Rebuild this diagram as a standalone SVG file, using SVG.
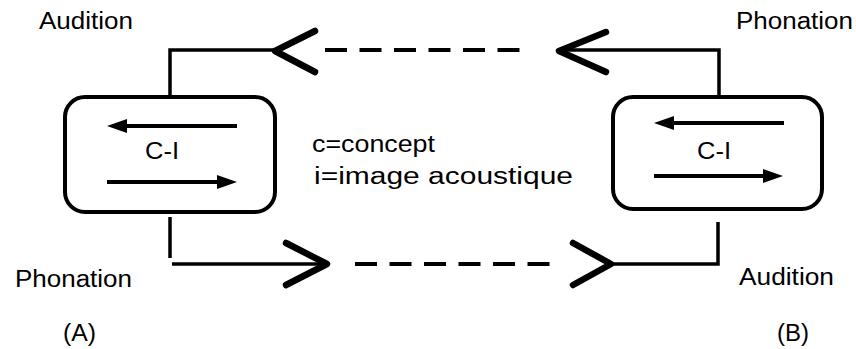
<svg xmlns="http://www.w3.org/2000/svg" width="856" height="349" viewBox="0 0 856 349">
  <style>
    .lbl { font-family: "Liberation Sans", Arial, sans-serif; font-size: 23px; fill: #000; }
    .box { fill: #fff; stroke: #000; stroke-width: 4; }
    .wire { fill: none; stroke: #000; stroke-width: 3.5; }
    .dash { fill: none; stroke: #000; stroke-width: 4; stroke-dasharray: 22 12.5; }
    .chev { fill: none; stroke: #000; stroke-width: 6.5; stroke-linecap: round; stroke-linejoin: round; }
    .inner { fill: none; stroke: #000; stroke-width: 4; }
    .head { fill: #000; stroke: none; }
  </style>
  <rect width="856" height="349" fill="#fff"/>

  <!-- speaker A -->
  <g id="speaker-a">
    <rect class="box" x="65" y="97" width="210" height="115" rx="20"/>
    <line class="inner" x1="237" y1="126" x2="122" y2="126"/>
    <polygon class="head" points="107,126 127,119 127,133"/>
    <line class="inner" x1="107" y1="182" x2="222" y2="182"/>
    <polygon class="head" points="237,182 217,175 217,189"/>
    <text class="lbl" x="145" y="159" textLength="34" lengthAdjust="spacingAndGlyphs">C-I</text>
  </g>

  <!-- speaker B -->
  <g id="speaker-b">
    <rect class="box" x="613" y="97" width="209" height="112" rx="20"/>
    <line class="inner" x1="784" y1="123" x2="669" y2="123"/>
    <polygon class="head" points="654,123 674,116 674,130"/>
    <line class="inner" x1="654" y1="176" x2="768" y2="176"/>
    <polygon class="head" points="783,176 763,169 763,183"/>
    <text class="lbl" x="697" y="159" textLength="34" lengthAdjust="spacingAndGlyphs">C-I</text>
  </g>

  <!-- legend -->
  <g id="legend">
    <text class="lbl" x="312" y="152" textLength="123" lengthAdjust="spacingAndGlyphs">c=concept</text>
    <text class="lbl" x="314" y="184" textLength="259" lengthAdjust="spacingAndGlyphs">i=image acoustique</text>
  </g>

  <!-- labels -->
  <g id="labels">
    <text class="lbl" x="39" y="29" textLength="94" lengthAdjust="spacingAndGlyphs">Audition</text>
    <text class="lbl" x="736" y="29" textLength="117" lengthAdjust="spacingAndGlyphs">Phonation</text>
    <text class="lbl" x="15" y="287" textLength="117" lengthAdjust="spacingAndGlyphs">Phonation</text>
    <text class="lbl" x="739" y="285" textLength="95" lengthAdjust="spacingAndGlyphs">Audition</text>
    <text class="lbl" x="63" y="341" textLength="33" lengthAdjust="spacingAndGlyphs">(A)</text>
    <text class="lbl" x="777" y="341" textLength="32" lengthAdjust="spacingAndGlyphs">(B)</text>
  </g>

  <!-- connectors -->
  <g id="connectors">
    <!-- B to A (top) -->
    <polyline class="wire" points="719,95 719,50 560,50"/>
    <polyline class="chev" points="606,32 559,51 606,72"/>
    <line class="dash" x1="325" y1="50" x2="527" y2="50"/>
    <polyline class="chev" points="315,31 275,51 315,72"/>
    <polyline class="wire" points="275,50 170,50 170,95"/>

    <!-- A to B (bottom) -->
    <line class="wire" x1="170" y1="217" x2="170" y2="258"/>
    <line class="wire" x1="172" y1="264" x2="326" y2="264"/>
    <polyline class="chev" points="286,243 327,264 286,285"/>
    <line class="dash" x1="355" y1="264" x2="557" y2="264"/>
    <polyline class="chev" points="573,243 611,264 573,285"/>
    <polyline class="wire" points="611,264 718,264 718,222"/>
  </g>
</svg>
